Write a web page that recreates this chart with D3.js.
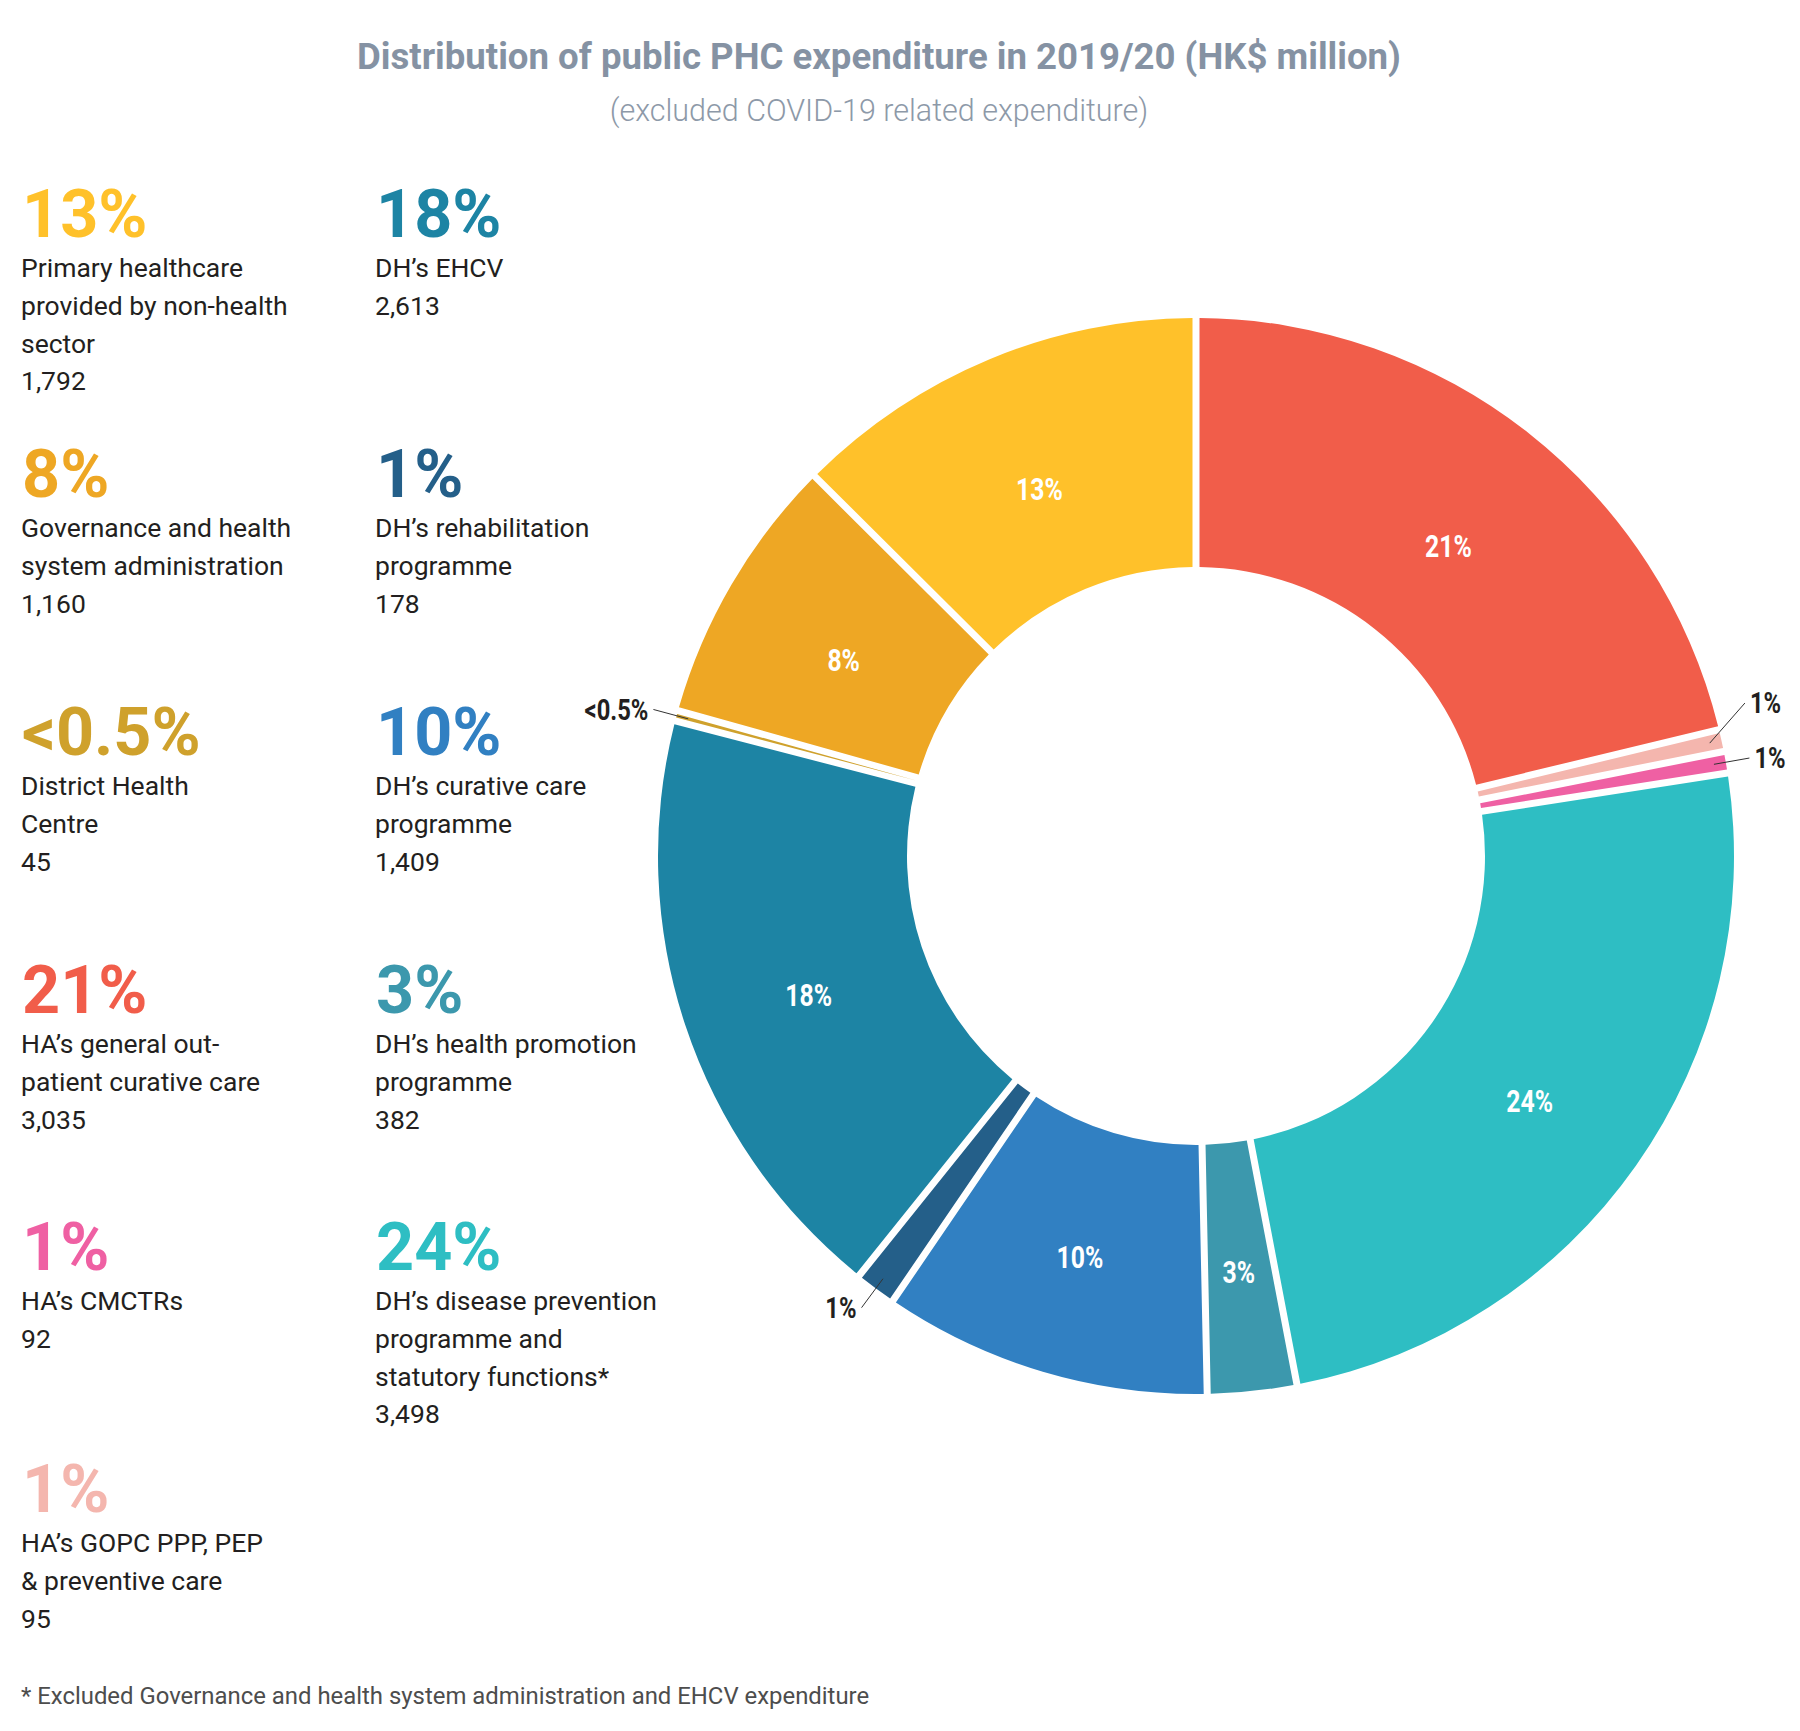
<!DOCTYPE html>
<html><head><meta charset="utf-8">
<script src="https://cdn.jsdelivr.net/npm/d3@7"></script>
<style>body{margin:0;background:#fff} svg{display:block}</style>
</head><body>
<svg id="c" width="1800" height="1731"></svg>
<script>
const categories = ["HA’s general out-patient curative care", "HA’s GOPC PPP, PEP & preventive care", "HA’s CMCTRs", "DH’s disease prevention programme and statutory functions*", "DH’s health promotion programme", "DH’s curative care programme", "DH’s rehabilitation programme", "DH’s EHCV", "District Health Centre", "Governance and health system administration", "Primary healthcare provided by non-health sector"];
const values = [3035, 95, 92, 3498, 382, 1409, 178, 2613, 45, 1160, 1792];
const shareLabels = ["21%", "1%", "1%", "24%", "3%", "10%", "1%", "18%", "<0.5%", "8%", "13%"];
const valueLabels = ["3,035", "95", "92", "3,498", "382", "1,409", "178", "2,613", "45", "1,160", "1,792"];
const legendLines = [
  ["HA’s general out-", "patient curative care"],
  ["HA’s GOPC PPP, PEP", "& preventive care"],
  ["HA’s CMCTRs"],
  ["DH’s disease prevention", "programme and", "statutory functions*"],
  ["DH’s health promotion", "programme"],
  ["DH’s curative care", "programme"],
  ["DH’s rehabilitation", "programme"],
  ["DH’s EHCV"],
  ["District Health", "Centre"],
  ["Governance and health", "system administration"],
  ["Primary healthcare", "provided by non-health", "sector"]
];
const colors = ["#f15d4a", "#f4b6ae", "#ef60a3", "#2ebec3", "#3c98ad", "#3180c2", "#245f89", "#1d84a4", "#cfa12c", "#eea724", "#ffc12a"];
const title = "Distribution of public PHC expenditure in 2019/20 (HK$ million)";
const subtitle = "(excluded COVID-19 related expenditure)";
const footnote = "* Excluded Governance and health system administration and EHCV expenditure";

// layout
const cx = 1196, cy = 856, R = 538, R0 = 289;
const FONT = "Roboto, 'Liberation Sans', sans-serif";
const svg = d3.select("#c");

svg.append("text").attr("x", 879).attr("y", 69).attr("text-anchor", "middle")
  .attr("font-family", FONT).attr("font-weight", 700).attr("font-size", 36.6)
  .attr("fill", "#8592a3").text(title);
svg.append("text").attr("x", 879).attr("y", 121).attr("text-anchor", "middle")
  .attr("font-family", FONT).attr("font-weight", 300).attr("font-size", 30.5)
  .attr("fill", "#8d99a8").text(subtitle);

const total = d3.sum(values);
const data = values.map((v, i) => ({v, i}));
const pie = d3.pie().value(d => d.v).sort(null).startAngle(0).endAngle(2 * Math.PI);
const arcs = pie(data);
const gap = 7;
const arc = d3.arc().innerRadius(R0).outerRadius(R).padRadius(R).padAngle(gap / R);
const g = svg.append("g").attr("transform", `translate(${cx},${cy})`);
g.selectAll("path").data(arcs).join("path").attr("d", arc).attr("fill", d => colors[d.data.i]);

const isSmall = d => d.data.v / total < 0.015;
const polar = (a, r) => [Math.sin(a) * r, -Math.cos(a) * r];
const mid = d => (d.startAngle + d.endAngle) / 2;

// inside labels
g.selectAll("text.in").data(arcs.filter(d => !isSmall(d))).join("text")
  .attr("class", "in")
  .attr("transform", d => { const p = polar(mid(d), 408); return `translate(${p[0]},${p[1] + 10}) scale(0.8,1)`; })
  .attr("text-anchor", "middle").attr("dy", "0.36em")
  .attr("font-family", FONT).attr("font-weight", 700).attr("font-size", 31)
  .attr("fill", "#fff").text(d => shareLabels[d.data.i]);

// outside labels with simple vertical de-overlap per side (push upper labels up)
const small = arcs.filter(isSmall).map(d => {
  const side = mid(d) > Math.PI ? -1 : 1;
  const a = polar(mid(d), 562);
  return {d, side, s: polar(mid(d), 526), x: a[0], y: a[1]};
});
[-1, 1].forEach(side => {
  const grp = small.filter(o => o.side === side).sort((a, b) => a.y - b.y);
  const minGap = 55;
  for (let k = grp.length - 2; k >= 0; k--) {
    if (grp[k].y > grp[k + 1].y - minGap) grp[k].y = grp[k + 1].y - minGap;
  }
});
g.selectAll("line.lead").data(small).join("line").attr("class", "lead")
  .attr("x1", o => o.s[0]).attr("y1", o => o.s[1])
  .attr("x2", o => o.x).attr("y2", o => o.y)
  .attr("stroke", "#333").attr("stroke-width", 1);
g.selectAll("text.out").data(small).join("text").attr("class", "out")
  .attr("transform", o => `translate(${o.x + o.side * 5},${o.y}) scale(0.82,1)`)
  .attr("text-anchor", o => o.side < 0 ? "end" : "start").attr("dy", "0.36em")
  .attr("font-family", FONT).attr("font-weight", 700).attr("font-size", 29)
  .attr("fill", "#231f20").text(o => shareLabels[o.d.data.i]);

// legend
const columns = [[10, 9, 8, 0, 2, 1], [7, 6, 5, 4, 3]];
const colX = [21, 375];
const rowY = [237, 497, 755, 1013, 1270, 1512];
const lineH = 37.8;
columns.forEach((col, ci) => {
  col.forEach((idx, ri) => {
    const lg = svg.append("g").attr("transform", `translate(${colX[ci]},${rowY[ri]})`);
    lg.append("text").attr("x", 1).attr("y", 0).attr("font-family", FONT).attr("font-weight", 700)
      .attr("font-size", 66.5).attr("fill", colors[idx]).text(shareLabels[idx]);
    const lines = legendLines[idx].concat([valueLabels[idx]]);
    lg.selectAll("text.l").data(lines).join("text").attr("class", "l")
      .attr("x", 0).attr("y", (d, k) => 40 + k * lineH)
      .attr("font-family", FONT).attr("font-size", 26.5).attr("fill", "#231f20").text(d => d);
  });
});

svg.append("text").attr("x", 21).attr("y", 1704).attr("font-family", FONT).attr("font-size", 23.9)
  .attr("fill", "#4d4d4d").text(footnote);
</script>
</body></html>
